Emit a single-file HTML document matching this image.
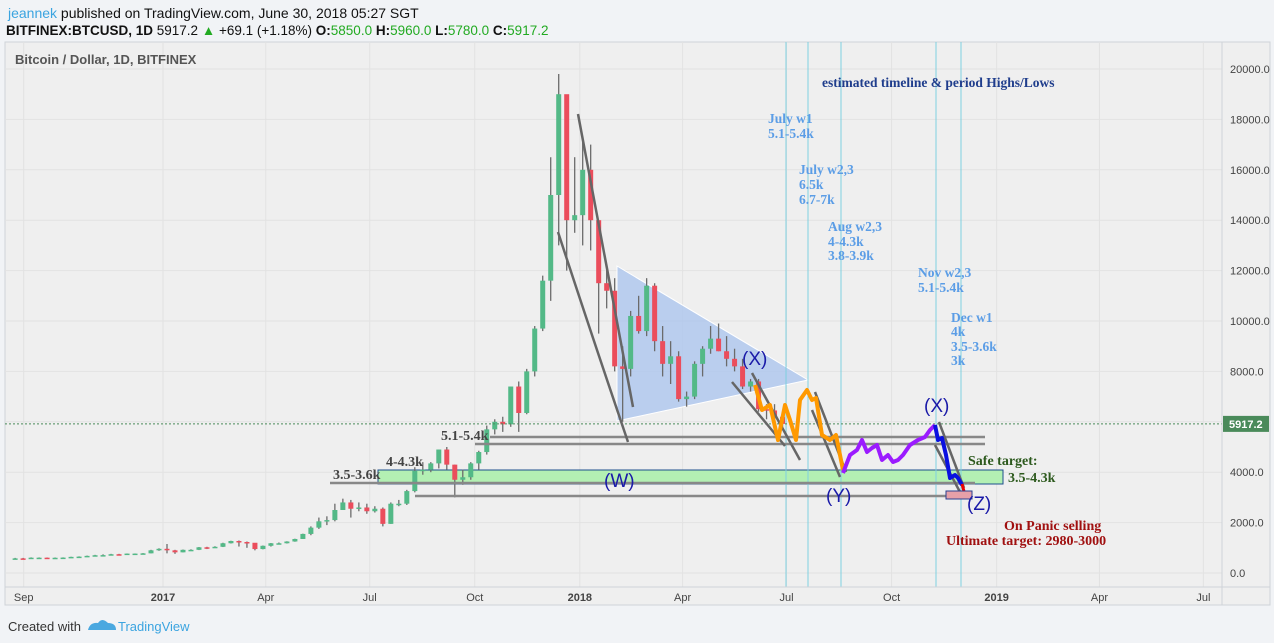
<!DOCTYPE html>
<html><head><meta charset="utf-8"><style>
body{margin:0;width:1274px;height:643px;overflow:hidden;background:#f1f3f6;font-family:"Liberation Sans",sans-serif}
svg{position:absolute;left:0;top:0}
</style></head><body>
<svg id="c" width="1274" height="643" xmlns="http://www.w3.org/2000/svg">
<rect x="0" y="0" width="1274" height="643" fill="#f1f3f6"/>
<text x="8" y="18" font-size="14" fill="#111"><tspan fill="#3ba4e0">jeannek</tspan> published on TradingView.com, June 30, 2018 05:27 SGT</text>
<text x="6" y="35" font-size="13.5" font-weight="bold" fill="#111">BITFINEX:BTCUSD, 1D <tspan font-weight="normal">5917.2</tspan> <tspan fill="#22aa22">▲</tspan><tspan font-weight="normal"> +69.1 (+1.18%)</tspan> O:<tspan fill="#22aa22" font-weight="normal">5850.0</tspan> H:<tspan fill="#22aa22" font-weight="normal">5960.0</tspan> L:<tspan fill="#22aa22" font-weight="normal">5780.0</tspan> C:<tspan fill="#22aa22" font-weight="normal">5917.2</tspan></text>
<rect x="5" y="42" width="1265" height="563" fill="#efefef" stroke="#cfd3d8"/>
<g id="grid"></g>
<text x="15" y="64" font-size="13" fill="#555" font-weight="bold">Bitcoin / Dollar, 1D, BITFINEX</text>
<g id="annBack"></g>
<g id="candles"></g>
<g id="ann"></g>
<line x1="1222" y1="42" x2="1222" y2="605" stroke="#cfd3d8"/>
<line x1="5" y1="587" x2="1270" y2="587" stroke="#cfd3d8"/>
<g id="yax"></g><g id="xax"></g>
<text x="8" y="631" font-size="13" fill="#333">Created with</text>
<g><path d="M88 630 q2-8 10-7 q4-6 10 0 q8 0 8 7 z" fill="#4aa8e0"/><text x="118" y="631" font-size="13" fill="#3ba4e0">TradingView</text></g>
</svg>
<script>
const weeks0 = '2016-08-21';
const closes = [580,575,608,608,600,605,612,640,650,680,705,710,745,735,770,770,780,900,960,900,820,920,920,1020,1010,1040,1180,1270,1230,1200,950,1080,1180,1180,1250,1350,1550,1800,2050,2100,2500,2800,2550,2600,2450,2550,1950,2750,2750,3250,4050,4100,4350,4900,4300,3700,3800,4350,4800,5700,6000,5900,7400,6350,8000,9700,11600,15000,19000,14000,14200,16000,14000,11500,11200,8200,8100,10200,9600,11400,9200,8300,8600,6900,7000,8300,8900,9300,8800,8500,8200,7400,7600,6500,6450,6200,5917];
const highs = [600,600,620,620,615,615,620,645,660,690,720,740,760,760,775,775,790,920,980,1150,920,930,940,1030,1040,1060,1200,1280,1290,1250,1110,1090,1190,1210,1260,1360,1560,1850,2200,2250,2750,2950,2900,2800,2750,2650,2600,2800,2900,3300,4200,4400,4400,4900,5000,4300,4100,4400,4850,5850,6100,6200,7400,7600,8100,9800,11800,16500,19800,17400,16500,17200,17000,14000,12000,11700,9000,10400,11000,11700,11500,9800,9200,8800,7200,8400,9000,9800,9900,9400,8900,8500,7700,7700,6700,6700,6300];
const lows = [560,565,570,600,590,595,600,610,635,650,680,690,700,720,730,750,760,780,880,780,760,820,880,910,950,1000,1030,1170,1050,1000,900,940,1050,1150,1170,1240,1350,1500,1750,1900,2050,2500,2200,2450,2350,2400,1850,1950,2650,2700,3200,3900,4000,4150,4100,3000,3500,3700,4100,4700,5500,5600,5800,5600,6300,7800,9600,10800,13000,12000,13500,13000,12800,9500,10500,8000,6000,7800,9500,9400,8800,7800,7500,6800,6600,6900,7800,8700,8800,8200,8000,7300,7200,6400,6100,5800,5780];
const yTicks = [0,2000,4000,8000,10000,12000,14000,16000,18000,20000];
const gridTicks = [0,2000,4000,6000,8000,10000,12000,14000,16000,18000,20000];
const xTickDates = ['2016-09-01','2017-01-01','2017-04-01','2017-07-01','2017-10-01','2018-01-01','2018-04-01','2018-07-01','2018-10-01','2019-01-01','2019-04-01','2019-07-01'];
const xTickLabels = ['Sep','2017','Apr','Jul','Oct','2018','Apr','Jul','Oct','2019','Apr','Jul'];
const lastPrice = 5917.2;

const NS='http://www.w3.org/2000/svg';
const base=Date.UTC(2017,0,1);
function xd(s){const d=new Date(s+'T00:00:00Z');return 163+(d-base)/864e5*1.142;}
function y(v){return 573-v*0.0252;}
function mk(tag,attrs,parent,txt){const e=document.createElementNS(NS,tag);for(const k in attrs)e.setAttribute(k,attrs[k]);if(txt!==undefined)e.textContent=txt;document.getElementById(parent).appendChild(e);return e;}

gridTicks.forEach(v=>{
  const g=mk('line',{x1:5,x2:1222,y1:y(v),y2:y(v),stroke:'#e2e2e2'},'grid');
  
  
});
yTicks.forEach(v=>{
  const t=mk('text',{x:1230,y:y(v)+4,'font-size':11,fill:'#444'},'yax',v.toFixed(1));
  
  
});
xTickDates.forEach((d,i)=>{
  const x=xd(d);
  const g=mk('line',{x1:x,x2:x,y1:42,y2:587,stroke:'#e2e2e2'},'grid');
  
  
  const bold=xTickLabels[i].length===4;
  const t=mk('text',{x:x,y:601,'font-size':11,fill:'#444','text-anchor':'middle','font-weight':bold?'bold':'normal'},'xax',xTickLabels[i]);
  
  
});

const d0=new Date(weeks0+'T00:00:00Z');
closes.forEach((c,i)=>{
  const dt=new Date(d0.getTime()+i*7*864e5).toISOString().slice(0,10);
  const x=xd(dt)+4;
  const o=i?closes[i-1]:c;
  const w=mk('line',{x1:x,x2:x,y1:y(highs[i]),y2:y(lows[i]),stroke:'#6b6b6b','stroke-width':1.3},'candles');
  
  
  const top=Math.max(o,c),bot=Math.min(o,c);
  const b=mk('rect',{x:x-2.5,y:y(top),width:5,height:Math.max(1.5,y(bot)-y(top)),fill:c>=o?'#53b987':'#eb4d5c'},'candles');
  
  
});

const A=document.getElementById('annBack');
A.innerHTML=`
<polygon points="617,266 808,380 617,421" fill="#a8c3ee" fill-opacity="0.75" stroke="#fff"/>
<rect x="378" y="470" width="625" height="14" fill="#b3f0b3" stroke="#1e4f8c"/>
`;
const B=document.getElementById('ann');
const cy=[786,808,841,936,961].map(x=>`<line x1="${x}" y1="42" x2="${x}" y2="587" stroke="#7fd0e0"/>`).join('');
B.innerHTML=cy+`
<line x1="5" y1="${y(lastPrice)}" x2="1222" y2="${y(lastPrice)}" stroke="#4a8a5a" stroke-dasharray="2,2"/>
<g stroke="#888" stroke-width="2.5" fill="none">
<line x1="490" y1="437" x2="985" y2="437"/><line x1="475" y1="444" x2="985" y2="444"/>
<line x1="330" y1="483" x2="975" y2="483"/><line x1="415" y1="496" x2="972" y2="496"/>
</g>
<g stroke="#666" stroke-width="2.5" fill="none">
<line x1="578" y1="114" x2="633" y2="407"/><path d="M558 232 Q590 330 628 442"/>
<line x1="752" y1="373" x2="800" y2="460"/><line x1="732" y1="382" x2="785" y2="446"/>
<line x1="815" y1="392" x2="846" y2="472"/><line x1="812" y1="410" x2="840" y2="477"/>
<line x1="939" y1="422" x2="964" y2="488"/><line x1="935" y1="445" x2="960" y2="492"/>
</g>
<polyline points="755,385 762,410 770,405 778,440 785,405 790,420 796,440 800,400 807,390 812,400 816,398 822,435 830,440 836,435 843,470" fill="none" stroke="#ff9900" stroke-width="4" stroke-linejoin="round"/>
<polyline points="843,473 850,455 857,450 862,440 867,452 872,448 877,445 882,460 888,455 893,462 898,460 903,455 910,445 918,440 925,437 930,430 935,425" fill="none" stroke="#9b1bff" stroke-width="4" stroke-linejoin="round"/>
<polyline points="935,425 938,440 942,438 946,455 950,478 955,475 958,478 962,485" fill="none" stroke="#0a10e0" stroke-width="4" stroke-linejoin="round"/>
<line x1="962" y1="484" x2="965" y2="495" stroke="#e00" stroke-width="3"/>
<rect x="946" y="491" width="26" height="8" fill="#e6a0a8" stroke="#2a3f8f"/>
<g font-family="Liberation Sans,sans-serif" font-size="19" fill="#1a1aa8">
<text x="742" y="365">(X)</text><text x="924" y="412">(X)</text><text x="826" y="502">(Y)</text><text x="967" y="510">(Z)</text><text x="604" y="487">(W)</text>
</g>
<g font-family="Liberation Serif,serif" font-weight="bold" font-size="13.5" fill="#5b9de6">
<text x="822" y="87" fill="#1f3d8c">estimated timeline &amp; period Highs/Lows</text>
<text x="768" y="123">July w1</text><text x="768" y="138">5.1-5.4k</text>
<text x="799" y="174">July w2,3</text><text x="799" y="189">6.5k</text><text x="799" y="204">6.7-7k</text>
<text x="828" y="231">Aug w2,3</text><text x="828" y="246">4-4.3k</text><text x="828" y="260">3.8-3.9k</text>
<text x="918" y="277">Nov w2,3</text><text x="918" y="292">5.1-5.4k</text>
<text x="951" y="322">Dec w1</text><text x="951" y="336">4k</text><text x="951" y="351">3.5-3.6k</text><text x="951" y="365">3k</text>
</g>
<g font-family="Liberation Serif,serif" font-weight="bold" font-size="14">
<text x="441" y="440" fill="#444">5.1-5.4k</text><text x="386" y="466" fill="#444">4-4.3k</text><text x="333" y="479" fill="#444">3.5-3.6k</text>
<text x="968" y="465" fill="#2d5a1e">Safe target:</text><text x="1008" y="482" fill="#2d5a1e">3.5-4.3k</text>
<text x="1004" y="530" fill="#a01010">On Panic selling</text><text x="946" y="545" fill="#a01010">Ultimate target: 2980-3000</text>
</g>
<rect x="1223" y="${y(lastPrice)-8}" width="46" height="16" fill="#4a8a5a"/>
<text x="1229" y="${y(lastPrice)+4}" font-size="11" fill="#fff" font-weight="bold">5917.2</text>
`;
</script>
</body></html>
